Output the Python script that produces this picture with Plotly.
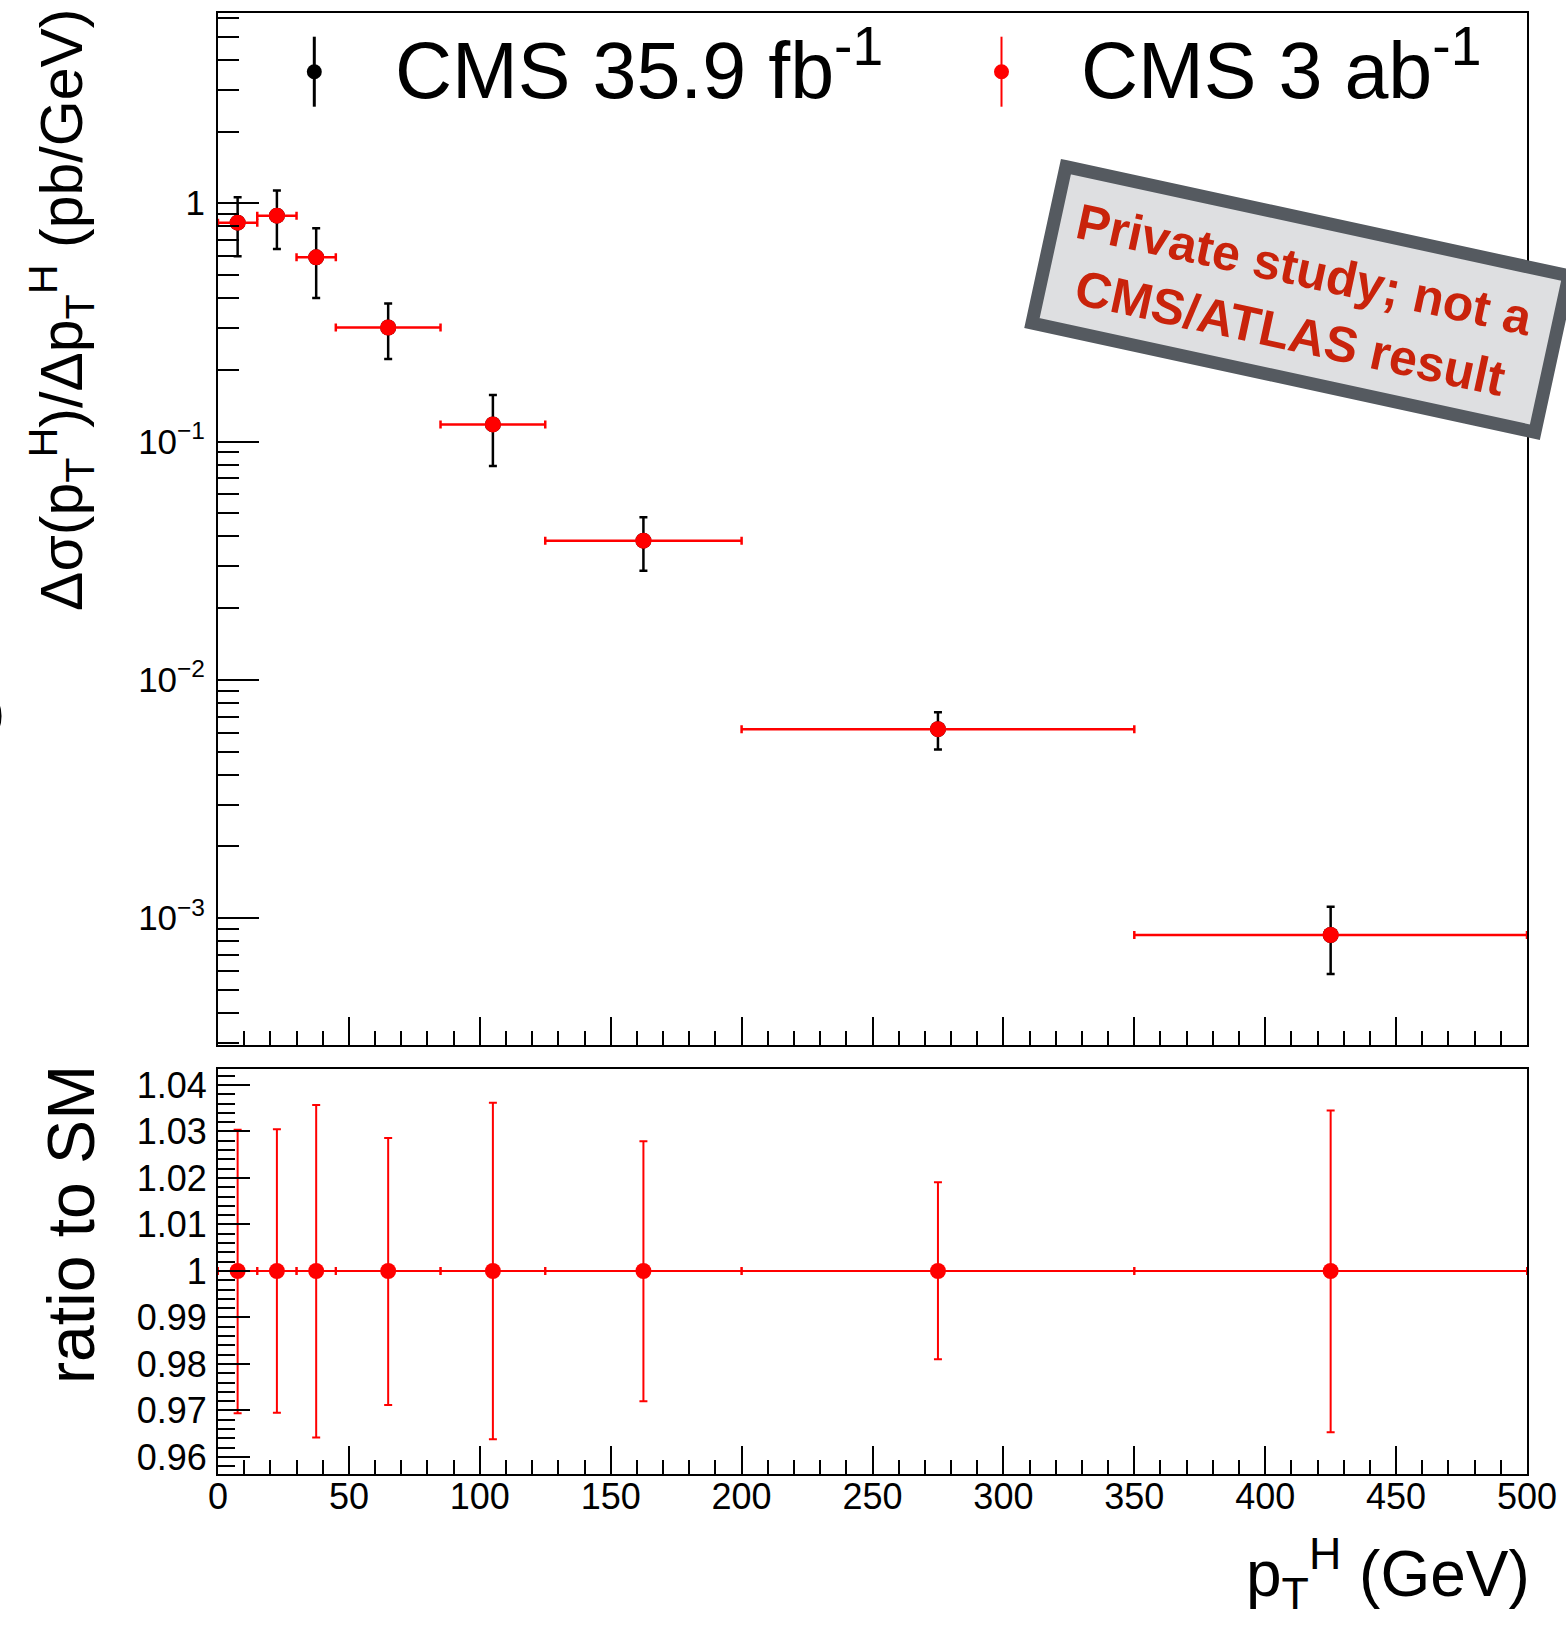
import math
import plotly.graph_objects as go

W, H = 1566, 1627

# ---------------- data ----------------
bin_low = [0, 15, 30, 45, 85, 125, 200, 350]
bin_high = [15, 30, 45, 85, 125, 200, 350, 500]
pt_center = [7.5, 22.5, 37.5, 65, 105, 162.5, 275, 425]
xsec = [0.829, 0.887, 0.593, 0.301, 0.118, 0.0384, 0.00621, 0.00085]
err_cms_36fb = [0.230, 0.245, 0.193, 0.079, 0.039, 0.0097, 0.0011, 0.000267]
ratio_sm = [1, 1, 1, 1, 1, 1, 1, 1]
ratio_err_up = [0.0304, 0.0305, 0.0357, 0.0286, 0.0362, 0.0279, 0.0191, 0.0345]
ratio_err_down = [0.0306, 0.0305, 0.0358, 0.0288, 0.0362, 0.0280, 0.0190, 0.0347]

top_tickvals = [1e-3, 1e-2, 1e-1, 1]
top_ticktext = ["10<sup>\u22123</sup>", "10<sup>\u22122</sup>", "10<sup>\u22121</sup>", "1"]
ratio_tickvals = [0.96, 0.97, 0.98, 0.99, 1.0, 1.01, 1.02, 1.03, 1.04]
ratio_ticktext = ["0.96", "0.97", "0.98", "0.99", "1", "1.01", "1.02", "1.03", "1.04"]
legend_labels = ["CMS 35.9 fb<sup>-1</sup>", "CMS 3 ab<sup>-1</sup>"]
stamp_text = "Private study; not a<br>CMS/ATLAS result"

# derived
xerr_plus = [h - c for h, c in zip(bin_high, pt_center)]
xerr_minus = [c - l for c, l in zip(pt_center, bin_low)]
red_yerr = [v * e for v, e in zip(xsec, ratio_err_up)]

FONT = "Liberation Sans, Arial, Helvetica, sans-serif"
RED = "#ff0000"


def px(x):
    return x / W


def py(y):
    return 1 - y / H


x_dom = [px(218), px(1527)]
top_dom = [py(1045), py(13.3)]
rat_dom = [py(1474), py(1069)]

fig = go.Figure()

# black: CMS 35.9 fb-1
fig.add_trace(go.Scatter(
    x=pt_center, y=xsec, mode="markers", xaxis="x", yaxis="y",
    marker=dict(color="black", size=16),
    error_y=dict(type="data", array=err_cms_36fb, color="black", thickness=2.5, width=4),
    showlegend=False, name=legend_labels[0],
))
# red: CMS 3 ab-1
fig.add_trace(go.Scatter(
    x=pt_center, y=xsec, mode="markers", xaxis="x", yaxis="y",
    marker=dict(color=RED, size=16),
    error_x=dict(type="data", symmetric=False, array=xerr_plus, arrayminus=xerr_minus,
                 color=RED, thickness=2.5, width=4),
    error_y=dict(type="data", array=red_yerr, color=RED, thickness=2, width=0),
    showlegend=False, name=legend_labels[1],
))
# ratio panel
fig.add_trace(go.Scatter(
    x=pt_center, y=ratio_sm, mode="markers", xaxis="x2", yaxis="y2",
    marker=dict(color=RED, size=16),
    error_x=dict(type="data", symmetric=False, array=xerr_plus, arrayminus=xerr_minus,
                 color=RED, thickness=2, width=4),
    error_y=dict(type="data", symmetric=False, array=ratio_err_up, arrayminus=ratio_err_down,
                 color=RED, thickness=2, width=4),
    showlegend=False,
))

# log minor ticks
minor_log = []
for e in range(-4, 1):
    for k in range(2, 10):
        v = k * 10 ** e
        if 2.9e-4 < v < 6.3:
            minor_log.append(v)

axis_common = dict(showline=True, linecolor="black", linewidth=2, mirror=True,
                   showgrid=False, zeroline=False, ticks="inside", tickcolor="black",
                   tickwidth=2)

fig.update_layout(
    width=W, height=H,
    margin=dict(l=0, r=0, t=0, b=0, autoexpand=False),
    paper_bgcolor="white", plot_bgcolor="white",
    font=dict(family=FONT, color="black"),
    xaxis=dict(domain=x_dom, anchor="y", range=[0, 500], dtick=50, tick0=0,
               ticklen=28, showticklabels=False,
               minor=dict(dtick=10, ticklen=14, ticks="inside", tickcolor="black", tickwidth=2),
               **axis_common),
    yaxis=dict(domain=top_dom, anchor="x", type="log", range=[-3.532, 0.797],
               tickmode="array", tickvals=top_tickvals, ticktext=top_ticktext,
               ticklen=41, tickfont=dict(size=35, family=FONT), ticklabelstandoff=4,
               minor=dict(tickmode="array", tickvals=minor_log, ticklen=21, ticks="inside",
                          tickcolor="black", tickwidth=2),
               **axis_common),
    xaxis2=dict(domain=x_dom, anchor="y2", range=[0, 500], dtick=50, tick0=0,
                ticklen=28, tickfont=dict(size=36, family=FONT), ticklabelstandoff=-10,
                minor=dict(dtick=10, ticklen=14, ticks="inside", tickcolor="black", tickwidth=2),
                **axis_common),
    yaxis2=dict(domain=rat_dom, anchor="x2", range=[0.95634, 1.04344],
                tickmode="array", tickvals=ratio_tickvals, ticktext=ratio_ticktext,
                ticklen=32, tickfont=dict(size=36, family=FONT), ticklabelstandoff=2,
                minor=dict(dtick=0.002, tick0=0.96, ticklen=17, ticks="inside",
                           tickcolor="black", tickwidth=2),
                **axis_common),
)

shapes = []
annotations = []

# ---- legend glyphs ----
for cx, col, lw in [(314.3, "black", 3), (1001.5, RED, 2)]:
    shapes.append(dict(type="line", xref="paper", yref="paper",
                       x0=px(cx), x1=px(cx), y0=py(36.7), y1=py(106.7),
                       line=dict(color=col, width=lw)))
    r = 7.5
    shapes.append(dict(type="circle", xref="paper", yref="paper",
                       x0=px(cx - r), x1=px(cx + r), y0=py(71.7 + r), y1=py(71.7 - r),
                       fillcolor=col, line=dict(color=col, width=0)))
for tx, lab in [(393, legend_labels[0]), (1079, legend_labels[1])]:
    annotations.append(dict(xref="paper", yref="paper", x=px(tx), y=py(65),
                            xanchor="left", yanchor="middle", showarrow=False,
                            text=lab, font=dict(size=79, family=FONT, color="black")))

# ---- stamp ----
ang = math.radians(12.25)
dx, dy = math.cos(ang), math.sin(ang)
pxp, pyp = -math.sin(ang), math.cos(ang)
cxs, cys = 1300.4, 299.4
wbox, hbox, bw = 527.6, 173.0, 13
hw, hh = wbox / 2 - bw / 2, hbox / 2 - bw / 2
corners = [(-hw, -hh), (hw, -hh), (hw, hh), (-hw, hh)]
pts = [(cxs + a * dx + b * pxp, cys + a * dy + b * pyp) for a, b in corners]
path = "M " + " L ".join(f"{px(x):.5f},{py(y):.5f}" for x, y in pts) + " Z"
shapes.append(dict(type="path", xref="paper", yref="paper", path=path,
                   fillcolor="#dedfe1", line=dict(color="#555a60", width=bw), layer="above"))
annotations.append(dict(xref="paper", yref="paper", x=px(1297), y=py(302),
                        xanchor="center", yanchor="middle", showarrow=False, textangle=12.25,
                        text=f"<b>{stamp_text}</b>",
                        font=dict(size=50, family=FONT, color="#c9230b")))

# ---- axis titles ----
annotations.append(dict(xref="paper", yref="paper", x=px(61), y=py(310),
                        xanchor="center", yanchor="middle", showarrow=False, textangle=-90,
                        text="\u0394\u03c3(p<sub>T</sub><sup>H</sup>)/\u0394p<sub>T</sub><sup>H</sup> (pb/GeV)",
                        font=dict(size=59, family=FONT, color="black")))
annotations.append(dict(xref="paper", yref="paper", x=px(71), y=py(1225),
                        xanchor="center", yanchor="middle", showarrow=False, textangle=-90,
                        text="ratio to SM", font=dict(size=66, family=FONT, color="black")))
annotations.append(dict(xref="paper", yref="paper", x=px(1532), y=py(1573),
                        xanchor="right", yanchor="middle", showarrow=False,
                        text="p<sub>T</sub><sup>H</sup> (GeV)",
                        font=dict(size=64, family=FONT, color="black")))
# clipped fragment on the left edge
annotations.append(dict(xref="paper", yref="paper", x=px(7), y=py(712),
                        xanchor="right", yanchor="middle", showarrow=False,
                        text=")", font=dict(size=50, family=FONT, color="black")))

fig.update_layout(shapes=shapes, annotations=annotations)

fig.write_html(
    "out.html",
    config={"displayModeBar": False},
    post_script="document.body.style.margin='0';document.body.style.padding='0';"
                "document.body.style.overflow='hidden';",
)
